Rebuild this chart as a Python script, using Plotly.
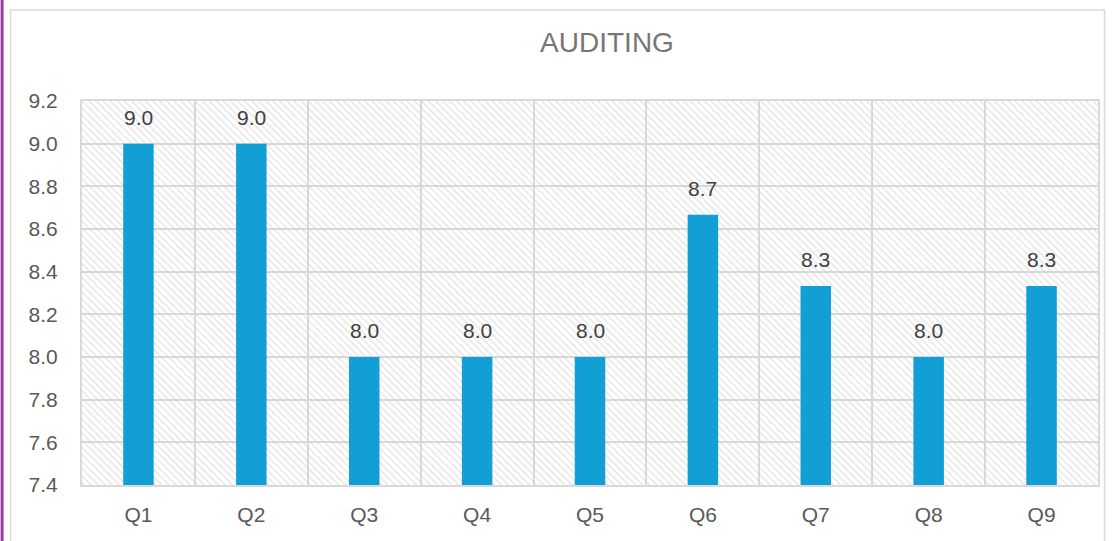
import plotly.graph_objects as go

categories = ["Q1", "Q2", "Q3", "Q4", "Q5", "Q6", "Q7", "Q8", "Q9"]
values = [9.0, 9.0, 8.0, 8.0, 8.0, 8.6667, 8.3333, 8.0, 8.3333]
y_min, y_max = 7.4, 9.2
title_text = "AUDITING"

W, H = 1116, 541
ml, mr, mt, mb = 81.5, 17.5, 101, 56
pw, ph = W - ml - mr, H - mt - mb

def px_x(p):
    return (p - ml) / pw

def px_y(p):
    return 1 - (p - mt) / ph

fig = go.Figure()

# hatched plot-area background
fig.add_trace(go.Bar(
    x=categories,
    y=[y_max - y_min] * len(categories),
    base=[y_min] * len(categories),
    width=1.0,
    marker=dict(
        color="rgba(0,0,0,0)",
        line=dict(width=0),
        pattern=dict(shape="\\", fgcolor="#cecece", size=5, solidity=0.3, fillmode="overlay"),
    ),
    hoverinfo="skip",
    showlegend=False,
))

fig.add_trace(go.Bar(
    x=categories,
    y=[v - y_min for v in values],
    base=[y_min] * len(values),
    width=0.27,
    marker=dict(color="#119fd6", line=dict(width=0)),
    showlegend=False,
))

annotations = [
    dict(x=c, y=v, xref="x", yref="y", text=f"{v:.1f}", showarrow=False,
         yanchor="bottom", xanchor="center", yshift=13,
         font=dict(size=21, color="#404040", family="Arial"))
    for c, v in zip(categories, values)
]

fig.update_layout(
    width=W, height=H,
    margin=dict(l=ml, r=mr, t=mt, b=mb, pad=0, autoexpand=False),
    barmode="overlay",
    paper_bgcolor="white",
    plot_bgcolor="white",
    font=dict(family="Arial", color="#595959", size=21),
    title=dict(text=title_text, x=607 / W, xanchor="center", xref="container",
               y=1 - 42 / H, yanchor="middle", yref="container",
               font=dict(size=28, color="#767676", family="Arial")),
    xaxis=dict(
        tickson="boundaries", showgrid=True, gridcolor="#d9d9d9", gridwidth=2,
        showline=True, linecolor="#d9d9d9", linewidth=2, mirror=True,
        ticks="", ticklabelstandoff=10, tickfont=dict(size=21, color="#595959"),
        automargin=False,
    ),
    yaxis=dict(
        range=[y_min, y_max], dtick=0.2, tick0=y_min, tickformat=".1f",
        showgrid=True, gridcolor="#d9d9d9", gridwidth=2,
        showline=True, linecolor="#d9d9d9", linewidth=2, mirror=True,
        ticks="", ticklabelstandoff=18, tickfont=dict(size=21, color="#595959"),
        zeroline=False, automargin=False,
    ),
    annotations=annotations,
    shapes=[
        dict(type="rect", xref="paper", yref="paper",
             x0=px_x(10), x1=px_x(1105), y0=px_y(10), y1=px_y(560),
             line=dict(color="#d9d9d9", width=1.5), fillcolor="rgba(0,0,0,0)", layer="below"),
        dict(type="line", xref="paper", yref="paper",
             x0=px_x(1.5), x1=px_x(1.5), y0=px_y(0), y1=px_y(H),
             line=dict(color="#9b3a9b", width=3)),
    ],
)

fig.write_html("out.html", config={"displayModeBar": False},
               post_script="document.body.style.margin='0';document.body.style.padding='0';")
